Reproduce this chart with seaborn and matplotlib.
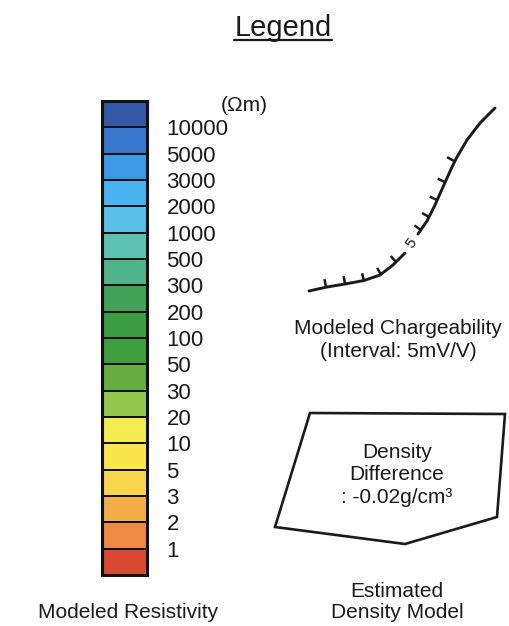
import numpy as np
import pandas as pd
import matplotlib
matplotlib.use("Agg")
import matplotlib.pyplot as plt
from matplotlib.colors import ListedColormap
from matplotlib.patches import Polygon
import seaborn as sns

# ---------------- data ----------------
resistivity_labels = ["10000", "5000", "3000", "2000", "1000", "500", "300", "200",
                      "100", "50", "30", "20", "10", "5", "3", "2", "1"]
class_colors = ["#3358a6", "#3a77cf", "#3c99e6", "#49b3ef", "#58bfe6", "#5fc2b0",
                "#50b288", "#41a257", "#3c9c44", "#3f9e40", "#66ae42", "#92c84c",
                "#f2ec50", "#f9e64a", "#f8d64e", "#f3ae4a", "#ee8a42", "#d94a32"]

# chargeability contour (picture pixel coordinates)
charge_low_x = [309, 327, 345, 364, 380, 393, 405]
charge_low_y = [291, 287, 284, 280.5, 275, 265, 253]
charge_up_x = [418, 427, 435, 443, 452, 457, 467, 480, 495]
charge_up_y = [234, 221, 205, 187, 167, 157, 140, 123, 108]
tick_x = [326, 345, 364, 381, 396, 421, 429, 437, 445, 454]
tick_y = [287, 284, 281, 275, 262, 230, 217, 200, 182, 161]
contour_label = "5"

# density polygon
poly_x = [310, 505, 497, 405, 275]
poly_y = [413, 414, 517, 544, 527]

# ---------------- style ----------------
sns.set_theme(style="white")
plt.rcParams["font.family"] = ["Liberation Sans", "DejaVu Sans"]

W, H = 509, 626
fig = plt.figure(figsize=(W / 100, H / 100), dpi=100)
fig.patch.set_facecolor("white")

ax0 = fig.add_axes([0, 0, 1, 1])
txt = "#1a1a1a"

# title
title = ax0.text(283, 36, "Legend", fontsize=21, ha="center", va="baseline", color=txt)

# chargeability curve
curve = pd.DataFrame({
    "x": charge_low_x + charge_up_x,
    "y": charge_low_y + charge_up_y,
    "seg": ["a"] * len(charge_low_x) + ["b"] * len(charge_up_x),
})
sns.lineplot(data=curve, x="x", y="y", units="seg", estimator=None, sort=False,
             color="#1a1a1a", lw=2.1, ax=ax0, legend=False)

# ticks perpendicular to the curve, on its upper side
cx = np.array(charge_low_x + charge_up_x, dtype=float)
cy = np.array(charge_low_y + charge_up_y, dtype=float)
tick_len = 8
for tx, ty in zip(tick_x, tick_y):
    i = int(np.argmin((cx - tx) ** 2 + (cy - ty) ** 2))
    i0, i1 = max(i - 1, 0), min(i + 1, len(cx) - 1)
    dx, dy = cx[i1] - cx[i0], cy[i1] - cy[i0]
    n = np.hypot(dx, dy)
    nx, ny = dy / n, -dx / n
    ax0.plot([tx, tx + nx * tick_len], [ty, ty + ny * tick_len], color="#1a1a1a",
             lw=1.8, solid_capstyle="butt")

ax0.text(411.5, 243.5, contour_label, fontsize=11, rotation=55, ha="center", va="center", color=txt)
ax0.set_xlim(0, W)
ax0.set_ylim(H, 0)
ax0.axis("off")

ax0.text(398, 334, "Modeled Chargeability", fontsize=15, ha="center", va="baseline", color=txt)
ax0.text(398, 357, "(Interval: 5mV/V)", fontsize=15, ha="center", va="baseline", color=txt)

# density polygon
ax0.add_patch(Polygon(np.column_stack([poly_x, poly_y]), closed=True, fill=False,
                      ec="#1a1a1a", lw=1.9))
ax0.text(397, 458, "Density", fontsize=15, ha="center", va="baseline", color=txt)
ax0.text(397, 480, "Difference", fontsize=15, ha="center", va="baseline", color=txt)
ax0.text(397, 503, ": -0.02g/cm³", fontsize=15, ha="center", va="baseline", color=txt)
ax0.text(397, 597, "Estimated", fontsize=15, ha="center", va="baseline", color=txt)
ax0.text(397, 618, "Density Model", fontsize=15, ha="center", va="baseline", color=txt)

ax0.text(128, 618, "Modeled Resistivity", fontsize=15, ha="center", va="baseline", color=txt)
ax0.text(221, 111, "(Ωm)", fontsize=15, ha="left", va="baseline", color=txt)

# colour bar as a seaborn heatmap
x0, x1, y0, y1 = 102, 147, 101, 575
axc = fig.add_axes([x0 / W, 1 - y1 / H, (x1 - x0) / W, (y1 - y0) / H])
grid = np.arange(len(class_colors)).reshape(-1, 1)
sns.heatmap(grid, cmap=ListedColormap(class_colors), cbar=False, linewidths=1.4,
            linecolor="#111111", ax=axc, xticklabels=False, yticklabels=False)
for s in axc.spines.values():
    s.set_visible(True)
    s.set_color("#111111")
    s.set_linewidth(2.2)
axc.set_yticks(np.arange(1, len(class_colors)))
axc.set_yticklabels(resistivity_labels, fontsize=16, color=txt)
axc.yaxis.tick_right()
axc.tick_params(axis="y", length=0, pad=14, labelright=True, labelleft=False)
axc.set_xticks([])

# underline the title
fig.canvas.draw()
bb = title.get_window_extent().transformed(ax0.transData.inverted())
ax0.plot([bb.x0, bb.x1], [40, 40], color="#1a1a1a", lw=1.6)

fig.savefig("out.png", dpi=100, facecolor="white")
